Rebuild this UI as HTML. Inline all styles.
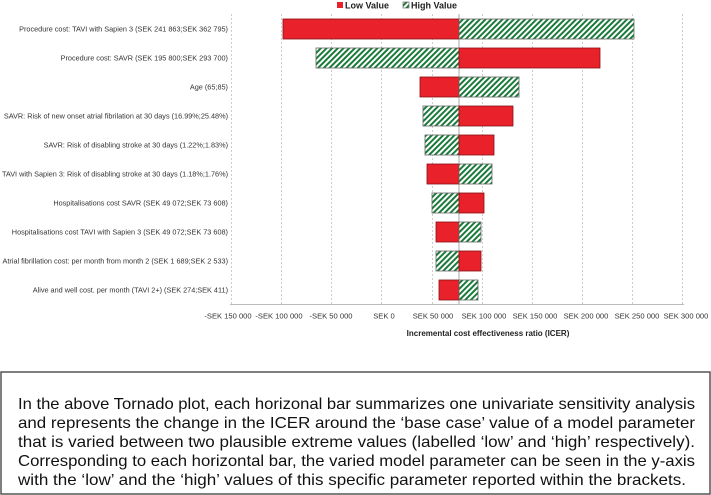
<!DOCTYPE html>
<html><head><meta charset="utf-8"><style>
html,body{margin:0;padding:0;background:#fff;}
svg{display:block;}
</style></head><body>
<svg width="711" height="495" xmlns="http://www.w3.org/2000/svg" font-family="Liberation Sans, Arial, sans-serif">
<defs>
<pattern id="h" patternUnits="userSpaceOnUse" width="4" height="4" patternTransform="rotate(45)">
<rect width="4" height="4" fill="#fff"/><rect width="2" height="4" fill="#1a7a3a"/>
</pattern>
</defs>
<rect x="337" y="2" width="6" height="6" fill="#e8212a"/>
<text x="345" y="8.5" font-size="9" font-weight="bold" fill="#222">Low Value</text>
<rect x="403" y="2" width="6" height="6" fill="url(#h)" stroke="#555" stroke-width="0.6"/>
<text x="411" y="8.5" font-size="9" font-weight="bold" fill="#222">High Value</text>
<g stroke="#ccc" stroke-width="1" stroke-dasharray="2,2">
<line x1="231.5" y1="14" x2="231.5" y2="304"/><line x1="281.5" y1="14" x2="281.5" y2="304"/>
<line x1="331.5" y1="14" x2="331.5" y2="304"/><line x1="381.5" y1="14" x2="381.5" y2="304"/>
<line x1="432.5" y1="14" x2="432.5" y2="304"/><line x1="482.5" y1="14" x2="482.5" y2="304"/>
<line x1="532.5" y1="14" x2="532.5" y2="304"/><line x1="582.5" y1="14" x2="582.5" y2="304"/>
<line x1="632.5" y1="14" x2="632.5" y2="304"/><line x1="682.5" y1="14" x2="682.5" y2="304"/>
</g>
<line x1="459" y1="14" x2="459" y2="304" stroke="#aaa"/>
<line x1="230" y1="304.5" x2="684" y2="304.5" stroke="#bbb"/>
<g stroke-width="0.8">
<rect x="283" y="19" width="176" height="20" fill="#e8212a" stroke="#8a1015"/>
<rect x="459" y="19" width="175" height="20" fill="url(#h)" stroke="#666"/>
<rect x="316" y="48" width="143" height="20" fill="url(#h)" stroke="#666"/>
<rect x="459" y="48" width="141" height="20" fill="#e8212a" stroke="#8a1015"/>
<rect x="420" y="77" width="39" height="20" fill="#e8212a" stroke="#8a1015"/>
<rect x="459" y="77" width="60" height="20" fill="url(#h)" stroke="#666"/>
<rect x="423" y="106" width="36" height="20" fill="url(#h)" stroke="#666"/>
<rect x="459" y="106" width="54" height="20" fill="#e8212a" stroke="#8a1015"/>
<rect x="425" y="135" width="34" height="20" fill="url(#h)" stroke="#666"/>
<rect x="459" y="135" width="35" height="20" fill="#e8212a" stroke="#8a1015"/>
<rect x="427" y="164" width="32" height="20" fill="#e8212a" stroke="#8a1015"/>
<rect x="459" y="164" width="33" height="20" fill="url(#h)" stroke="#666"/>
<rect x="432" y="193" width="27" height="20" fill="url(#h)" stroke="#666"/>
<rect x="459" y="193" width="25" height="20" fill="#e8212a" stroke="#8a1015"/>
<rect x="436" y="222" width="23" height="20" fill="#e8212a" stroke="#8a1015"/>
<rect x="459" y="222" width="22" height="20" fill="url(#h)" stroke="#666"/>
<rect x="436" y="251" width="23" height="20" fill="url(#h)" stroke="#666"/>
<rect x="459" y="251" width="22" height="20" fill="#e8212a" stroke="#8a1015"/>
<rect x="439" y="280" width="20" height="20" fill="#e8212a" stroke="#8a1015"/>
<rect x="459" y="280" width="19" height="20" fill="url(#h)" stroke="#666"/>
</g>
<g font-size="7.3" fill="#333" text-anchor="end">
<text x="228" y="31.5">Procedure cost: TAVI with Sapien 3 (SEK 241 863;SEK 362 795)</text>
<text x="228" y="60.5">Procedure cost: SAVR (SEK 195 800;SEK 293 700)</text>
<text x="228" y="89.5">Age (65;85)</text>
<text x="228" y="118.5">SAVR: Risk of new onset atrial fibrilation at 30 days (16.99%;25.48%)</text>
<text x="228" y="147.5">SAVR: Risk of disabling stroke at 30 days (1.22%;1.83%)</text>
<text x="228" y="176.5">TAVI with Sapien 3: Risk of disabling stroke at 30 days (1.18%;1.76%)</text>
<text x="228" y="205.5">Hospitalisations cost SAVR (SEK 49 072;SEK 73 608)</text>
<text x="228" y="234.5">Hospitalisations cost TAVI with Sapien 3 (SEK 49 072;SEK 73 608)</text>
<text x="228" y="263.5">Atrial fibrillation cost: per month from month 2 (SEK 1 689;SEK 2 533)</text>
<text x="228" y="292.5">Alive and well cost. per month (TAVI 2+) (SEK  274;SEK  411)</text>
</g>
<g font-size="7.6" fill="#333" text-anchor="middle">
<text x="228" y="318.5">-SEK 150 000</text><text x="279" y="318.5">-SEK 100 000</text>
<text x="331" y="318.5">-SEK 50 000</text><text x="384" y="318.5">SEK  0</text>
<text x="433" y="318.5">SEK 50 000</text><text x="484" y="318.5">SEK 100 000</text>
<text x="535" y="318.5">SEK 150 000</text><text x="586" y="318.5">SEK 200 000</text>
<text x="637" y="318.5">SEK 250 000</text><text x="686" y="318.5">SEK 300 000</text>
</g>
<text x="488" y="336" font-size="8" font-weight="bold" fill="#222" text-anchor="middle">Incremental cost effectiveness ratio (ICER)</text>
<rect x="1" y="372" width="709" height="122" fill="#fff" stroke="#555" stroke-width="1.5"/>
<g font-size="16" fill="#111">
<text x="18" y="409" textLength="677" lengthAdjust="spacingAndGlyphs">In the above Tornado plot, each horizonal bar summarizes one univariate sensitivity analysis</text>
<text x="18" y="428" textLength="677" lengthAdjust="spacingAndGlyphs">and represents the change in the ICER around the ‘base case’ value of a model parameter</text>
<text x="18" y="447" textLength="677" lengthAdjust="spacingAndGlyphs">that is varied between two plausible extreme values (labelled ‘low’ and ‘high’ respectively).</text>
<text x="18" y="466" textLength="677" lengthAdjust="spacingAndGlyphs">Corresponding to each horizontal bar, the varied model parameter can be seen in the y-axis</text>
<text x="18" y="485" textLength="668" lengthAdjust="spacingAndGlyphs">with the ‘low’ and the ‘high’ values of this specific parameter reported within the brackets.</text>
</g>
</svg>
</body></html>
